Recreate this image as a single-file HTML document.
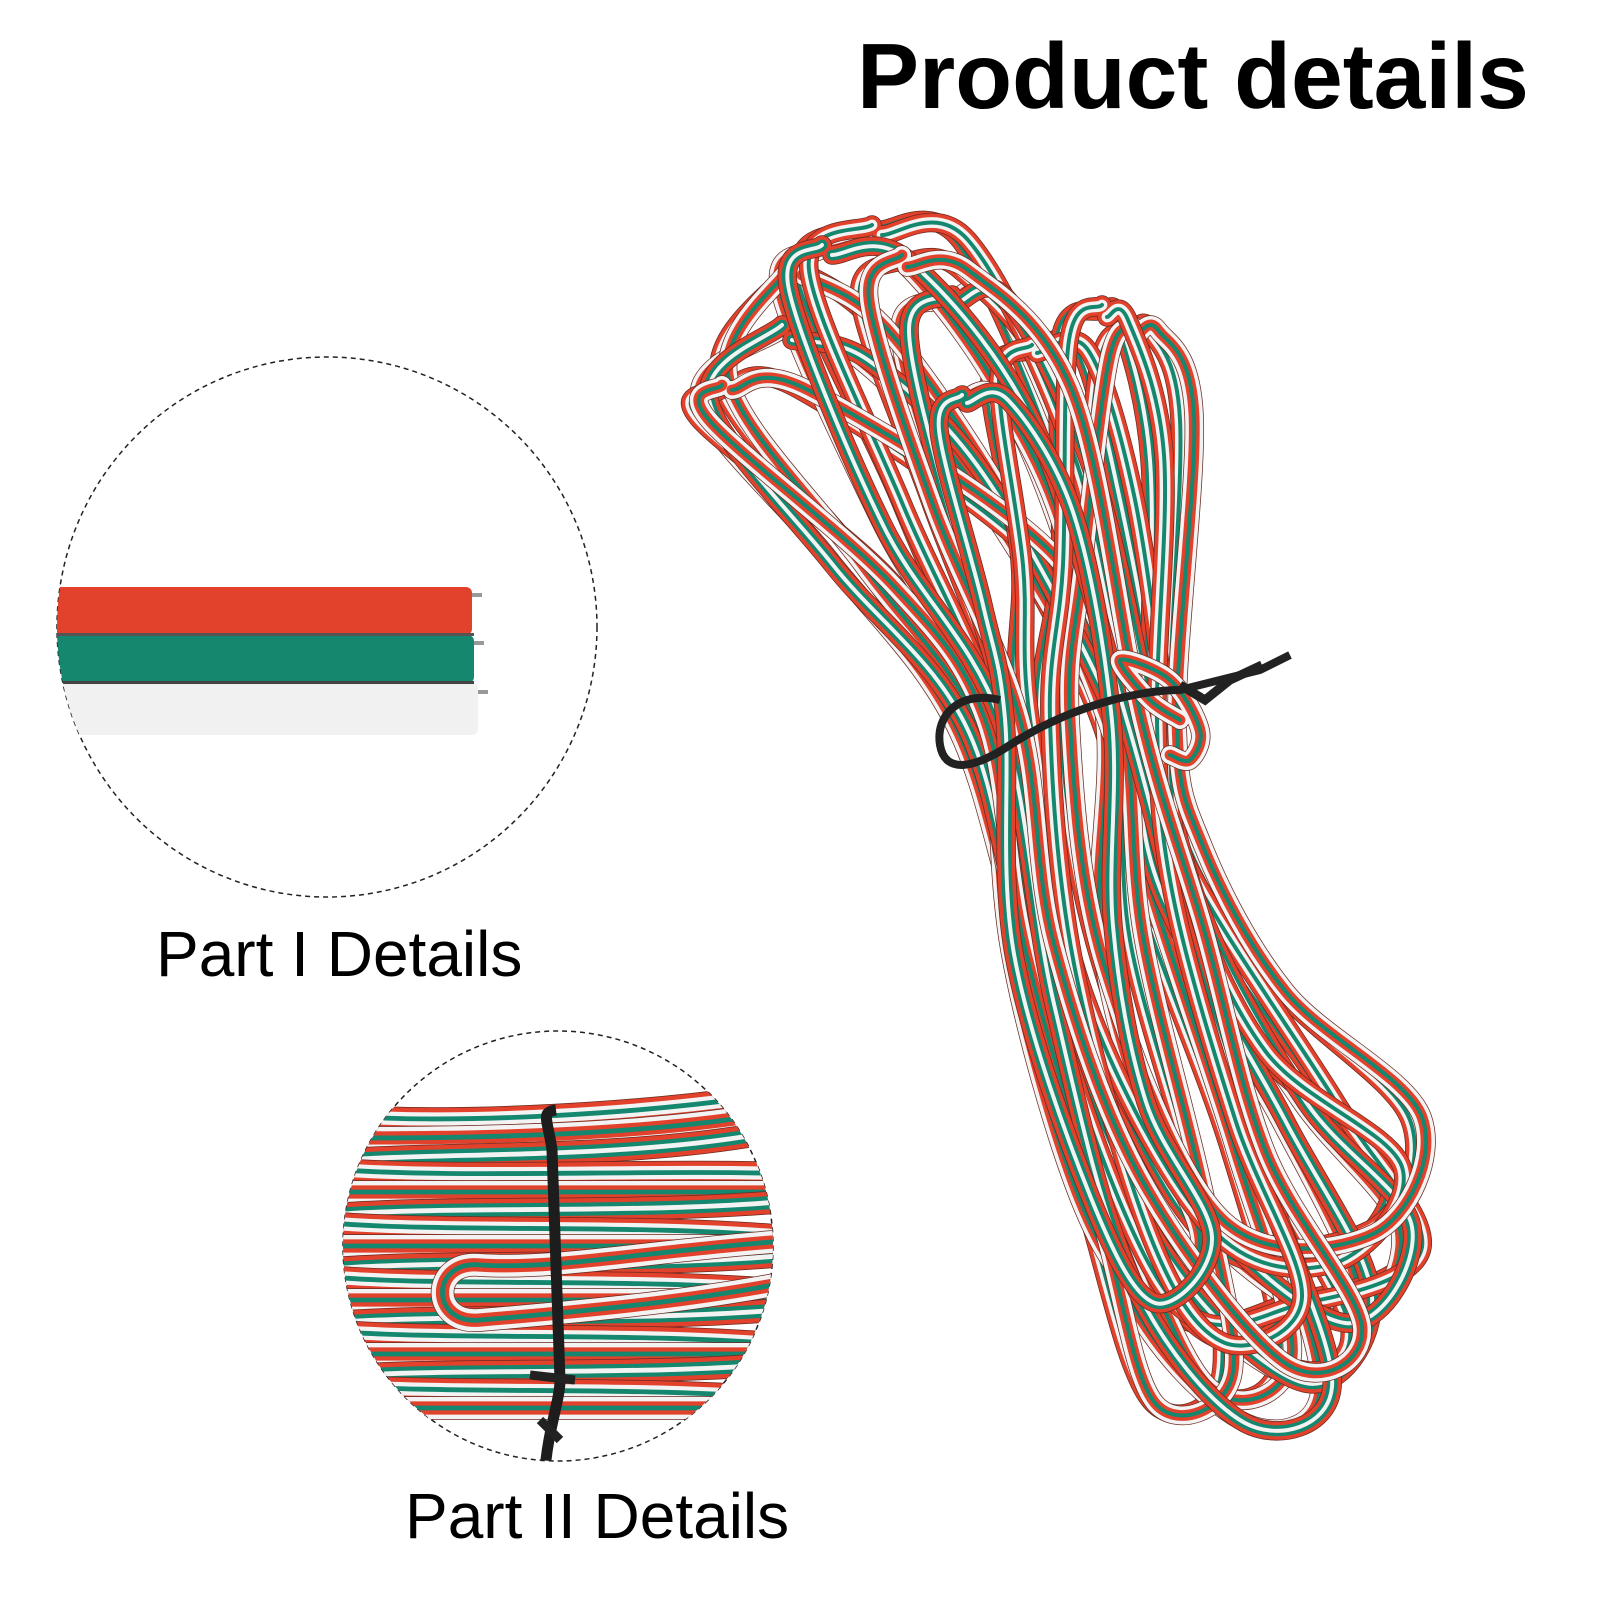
<!DOCTYPE html>
<html><head><meta charset="utf-8"><style>
html,body{margin:0;padding:0;background:#fff;width:1600px;height:1600px;overflow:hidden}
svg{position:absolute;left:0;top:0}
.t{font-family:"Liberation Sans",sans-serif;fill:#000}
</style></head><body>
<svg id="s" width="1600" height="1600" viewBox="0 0 1600 1600" xmlns="http://www.w3.org/2000/svg">
<defs>
<clipPath id="c1"><circle cx="327" cy="627" r="270"/></clipPath>
<clipPath id="c2"><circle cx="558" cy="1246" r="215"/></clipPath>
</defs>
<text class="t" x="857" y="108" font-size="93" font-weight="bold">Product details</text>
<text class="t" x="156" y="976" font-size="64">Part I Details</text>
<text class="t" x="405" y="1538" font-size="64">Part II Details</text>
<circle cx="327" cy="627" r="270" fill="none" stroke="#222" stroke-width="1.5" stroke-dasharray="5,4"/>
<circle cx="558" cy="1246" r="215" fill="none" stroke="#222" stroke-width="1.5" stroke-dasharray="5,4"/>
<g clip-path="url(#c1)">
<rect x="40" y="587" width="432" height="48" rx="6" fill="#e2412c"/>
<rect x="40" y="635" width="434" height="48" rx="6" fill="#14876e"/>
<rect x="40" y="683" width="438" height="52" rx="6" fill="#f1f1f1"/>
<rect x="40" y="633" width="434" height="3" fill="#555"/>
<rect x="40" y="681" width="434" height="3" fill="#444"/>
</g>
<path d="M472 595 h10 M474 643 h10 M478 692 h10" stroke="#999" stroke-width="4"/>
<g id="c2g" clip-path="url(#c2)"></g>
<g id="bundle"></g>
</svg>
<script>
var NS="http://www.w3.org/2000/svg";
function el(p,n,a){var e=document.createElementNS(NS,n);for(var k in a)e.setAttribute(k,a[k]);p.appendChild(e);return e;}
function cr(pts){var d="M"+pts[0][0]+" "+pts[0][1];var n=pts.length;
 for(var i=0;i<n-1;i++){var p0=pts[Math.max(i-1,0)],p1=pts[i],p2=pts[i+1],p3=pts[Math.min(i+2,n-1)];
 d+=" C"+(p1[0]+(p2[0]-p0[0])/6)+" "+(p1[1]+(p2[1]-p0[1])/6)+" "+(p2[0]-(p3[0]-p1[0])/6)+" "+(p2[1]-(p3[1]-p1[1])/6)+" "+p2[0]+" "+p2[1];}
 return d;}
function cable(g,d,w,order){var cols=order==1?["#e2412c","#f3f3f3","#14876e"]:order==2?["#f3f3f3","#e2412c","#14876e"]:["#e2412c","#14876e","#f3f3f3"];
 el(g,"path",{d:d,fill:"none",stroke:"#6a2a20","stroke-width":w+1.5,"stroke-linecap":"round"});
 el(g,"path",{d:d,fill:"none",stroke:cols[0],"stroke-width":w,"stroke-linecap":"round"});
 el(g,"path",{d:d,fill:"none",stroke:cols[1],"stroke-width":w*0.6,"stroke-linecap":"round"});
 el(g,"path",{d:d,fill:"none",stroke:cols[2],"stroke-width":w*0.22,"stroke-linecap":"round"});}
var g2=document.getElementById("c2g");
var ys=[1120,1138,1156,1174,1192,1210,1228,1246,1264,1282,1300,1318,1336,1354,1372,1390,1408];
for(var i=0;i<ys.length;i++){var y=ys[i];var dy=(i%3-1)*5;
 cable(g2,"M330 "+(y+dy)+" C450 "+(y-dy)+" 650 "+(y+dy)+" 800 "+(y-dy*2-(i<4?40-i*10:0)),22,(i%3)+1);}
cable(g2,"M800 1280 C700 1300 600 1310 480 1320 C430 1325 430 1260 480 1265 C560 1270 650 1250 800 1240",22,2);
el(g2,"path",{d:"M556 1110 C540 1112 548 1120 552 1150 L560 1380 C560 1400 548 1430 545 1470",fill:"none",stroke:"#1d1d1d","stroke-width":11});
el(g2,"path",{d:"M530 1375 L575 1380 M540 1420 L560 1440",stroke:"#222","stroke-width":9});
var gb=document.getElementById("bundle");
var loops=[
[[790,270],[720,380],[860,560],[965,720],[1010,900],[1090,1150],[1200,1380],[1280,1360],[1230,1150],[1140,900],[1100,720],[1000,520],[880,330],[800,270]],
[[780,330],[700,400],[830,560],[955,725],[1030,960],[1150,1250],[1300,1380],[1360,1300],[1280,1120],[1150,900],[1110,720],[970,480],[860,360],[790,335]],
[[870,230],[800,270],[900,500],[985,720],[1040,980],[1160,1300],[1300,1300],[1410,1250],[1330,1100],[1180,880],[1130,720],[1060,460],[960,240],[880,230]],
[[720,390],[700,420],[890,580],[975,720],[1020,940],[1090,1220],[1150,1400],[1220,1380],[1200,1200],[1130,940],[1115,720],[1040,560],[800,390],[730,385]],
[[950,300],[900,330],[950,520],[1000,720],[1060,960],[1180,1200],[1340,1320],[1400,1230],[1300,1100],[1190,920],[1145,720],[1080,480],[1000,300],[955,298]],
[[1030,350],[990,380],[1020,560],[1020,720],[1080,990],[1200,1230],[1330,1260],[1390,1170],[1260,1050],[1170,880],[1160,720],[1120,500],[1080,350],[1035,348]],
[[1130,330],[1100,360],[1080,560],[1060,720],[1100,960],[1210,1220],[1370,1230],[1410,1120],[1280,990],[1190,850],[1170,720],[1180,420],[1150,330],[1135,330]],
[[820,250],[780,290],[880,520],[990,720],[1050,1000],[1120,1280],[1240,1420],[1320,1390],[1260,1180],[1170,930],[1120,720],[1020,430],[900,260],[830,250]],
[[1100,310],[1060,340],[1060,560],[1040,720],[1070,960],[1140,1240],[1220,1340],[1290,1300],[1230,1120],[1160,900],[1150,720],[1150,460],[1120,320],[1105,312]],
[[900,260],[860,300],[930,500],[1010,720],[1050,940],[1130,1180],[1280,1360],[1350,1330],[1260,1150],[1190,930],[1135,720],[1060,400],[960,270],[905,262]],
[[960,400],[930,430],[980,600],[995,720],[1010,950],[1080,1200],[1150,1300],[1200,1240],[1140,1100],[1100,930],[1105,720],[1060,520],[1000,400],[965,398]]
];
for(var r=0;r<2;r++)for(var i=0;i<loops.length;i++){
 var pts=loops[i].map(function(p,j){return [p[0]+(r?((j*7)%13-6)+8:0),p[1]+(r?((j*5)%11-5):0)];});
 cable(gb,cr(pts),18,((i+r)%3)+1);}
cable(gb,cr([[1180,720],[1150,700],[1120,660],[1170,680],[1200,730],[1190,760],[1170,755]]),18,2);
el(gb,"path",{d:"M1000 700 C960 690 935 715 940 745 C945 775 975 768 1010 745 C1080 700 1150 690 1180 690 L1260 670 L1290 655",fill:"none",stroke:"#222","stroke-width":8});
el(gb,"path",{d:"M1180 685 L1205 700 L1230 680 L1262 665",fill:"none",stroke:"#222","stroke-width":9});
</script>
</body></html>
